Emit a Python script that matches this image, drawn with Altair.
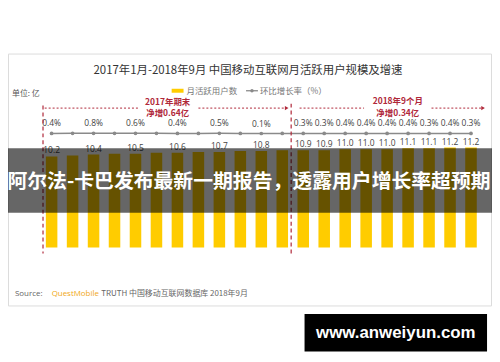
import altair as alt
import pandas as pd

# ---- data ----
months = ["2017-01", "2017-02", "2017-03", "2017-04", "2017-05", "2017-06", "2017-07",
          "2017-08", "2017-09", "2017-10", "2017-11", "2017-12", "2018-01", "2018-02",
          "2018-03", "2018-04", "2018-05", "2018-06", "2018-07", "2018-08", "2018-09"]
mau = [10.2, 10.3, 10.4, 10.5, 10.5, 10.6, 10.6, 10.7, 10.7, 10.8, 10.8, 10.9,
       10.9, 10.9, 11.0, 11.0, 11.0, 11.1, 11.1, 11.2, 11.2]
mau_labels = ["10.2", "", "10.4", "", "10.5", "", "10.6", "", "10.7", "", "10.8", "",
              "10.9", "10.9", "11.0", "11.0", "11.0", "11.1", "11.1", "11.2", "11.2"]
rate = [0.4, 0.6, 0.8, 0.7, 0.6, 0.5, 0.4, 0.4, 0.5, 0.3, 0.1, 0.2,
        0.3, 0.3, 0.4, 0.4, 0.4, 0.4, 0.3, 0.4, 0.3]
rate_labels = ["0.4%", "", "0.8%", "", "0.6%", "", "0.4%", "", "0.5%", "", "0.1%", "",
               "0.3%", "0.3%", "0.4%", "0.4%", "0.4%", "0.4%", "0.3%", "0.4%", "0.3%"]
y_ticks = [0, 4, 8, 12, 16]

title_text = "2017年1月-2018年9月 中国移动互联网月活跃用户规模及增速"
legend_bar = "月活跃用户数"
legend_line = "环比增长率（%）"
unit_text = "单位: 亿"
note1 = ["2017年期末", "净增0.64亿"]
note2 = ["2018年9个月", "净增0.34亿"]
source_parts = ["Source:", "QuestMobile", "TRUTH 中国移动互联网数据库 2018年9月"]
banner_text = "阿尔法-卡巴发布最新一期报告，透露用户增长率超预期"
watermark = "www.anweiyun.com"

df = pd.DataFrame({"month": months, "mau": mau, "mau_label": mau_labels,
                   "rate": rate, "rate_label": rate_labels})

# ---- layout (page pixels) ----
X0, Y0 = 41.4, 104.0          # plot-area origin on the page
W, H = 444, 144
PAD_L, PAD_T = X0 - 8, Y0 - 8
SVG_W, SVG_H = 488, 346


def px(x):
    return x - X0


def py(y):
    return y - Y0


CJK = "Noto Sans CJK SC"
NUM = "Open Sans"
RED = "#b0283a"
YELLOW = "#FFCC00"
GRAY_LINE = "#8a8a8a"

one = pd.DataFrame({"_": [0]})


def deco():
    return alt.Chart(one)


def text_at(t, x, y, size=9, color="#555", font=CJK, weight="normal", align="center"):
    return deco().mark_text(fontSize=size, color=color, font=font, fontWeight=weight,
                            align=align, baseline="middle").encode(
        x=alt.value(px(x)), y=alt.value(py(y)), text=alt.value(t))


def rect_at(x1, x2, y1, y2, **kw):
    return deco().mark_rect(**kw).encode(
        x=alt.value(px(x1)), x2=alt.value(px(x2)),
        y=alt.value(py(y1)), y2=alt.value(py(y2)))


def hrule(x1, x2, y, **kw):
    return deco().mark_rule(**kw).encode(
        x=alt.value(px(x1)), x2=alt.value(px(x2)), y=alt.value(py(y)))


def vrule(x, y1, y2, **kw):
    return deco().mark_rule(**kw).encode(
        x=alt.value(px(x)), y=alt.value(py(y1)), y2=alt.value(py(y2)))


def arrow(x, y):
    return deco().mark_point(shape="triangle-right", filled=True, size=18,
                             color=RED, opacity=1).encode(
        x=alt.value(px(x)), y=alt.value(py(y)))


base = alt.Chart(df)
xenc = alt.X("month:N", sort=None,
             scale=alt.Scale(paddingInner=0.45),
             axis=alt.Axis(title=None, labelAngle=-45, ticks=False, domain=False,
                           labelFontSize=7.5, labelColor="#555", labelFont=NUM,
                           labelPadding=2, labelAlign="right", labelBaseline="middle"))
ybar = alt.Y("mau:Q", scale=alt.Scale(domain=[0, 16]),
             axis=alt.Axis(values=y_ticks, title=None, grid=False, domain=False,
                           ticks=False, labelPadding=8, labelFontSize=8.5,
                           labelColor="#555", labelFont=NUM))
yrate = alt.Y("rate:Q", scale=alt.Scale(domain=[-398.9, 101.1]), axis=None)

border = rect_at(8.5, 495.5, 53, 307, fill="white", stroke="#dcdcdc", strokeWidth=1)

bars = base.mark_bar(color=YELLOW).encode(x=xenc, y=ybar)
bar_lbl = base.mark_text(dy=-6, fontSize=8.5, color="#444", font=NUM,
                         baseline="middle").encode(
    x=xenc, y=alt.Y("mau:Q", scale=alt.Scale(domain=[0, 16]), axis=None),
    text="mau_label:N")
line = base.mark_line(color=GRAY_LINE, strokeWidth=1.5).encode(x=xenc, y=yrate)
pts = base.mark_circle(color=GRAY_LINE, size=14, opacity=1).encode(x=xenc, y=yrate)
rate_lbl = base.mark_text(dy=-10, fontSize=8.5, color="#444", font=NUM,
                          baseline="middle").encode(x=xenc, y=yrate, text="rate_label:N")

decos = [
    text_at(title_text, 250, 70, size=11.5, color="#333"),
    rect_at(173, 185, 88, 92, fill=YELLOW),
    text_at(legend_bar, 188, 90, size=8.5, color="#777", align="left"),
    hrule(248, 260, 90, color=GRAY_LINE, strokeWidth=1.3),
    deco().mark_circle(color=GRAY_LINE, size=12, opacity=1).encode(
        x=alt.value(px(254)), y=alt.value(py(90))),
    text_at(legend_line, 262, 90, size=8.5, color="#777", align="left"),
    text_at(unit_text, 26, 93, size=8, color="#555"),
    vrule(43.3, 105, 254, color=RED, strokeDash=[4, 3], strokeWidth=1.2),
    vrule(293.5, 103, 254, color=RED, strokeDash=[4, 3], strokeWidth=1.2),
    hrule(45, 140, 107.5, color=RED, strokeDash=[2, 2], strokeWidth=1),
    hrule(200, 288, 107.5, color=RED, strokeDash=[2, 2], strokeWidth=1),
    arrow(289, 107.5),
    hrule(302, 367, 107.5, color=RED, strokeDash=[2, 2], strokeWidth=1),
    hrule(435, 486, 107.5, color=RED, strokeDash=[2, 2], strokeWidth=1),
    arrow(487, 107.5),
    text_at(note1[0], 169, 101.5, size=8.5, color=RED, weight="bold"),
    text_at(note1[1], 169, 112.5, size=8.5, color=RED, weight="bold"),
    text_at(note2[0], 401, 100.5, size=8.5, color=RED, weight="bold"),
    text_at(note2[1], 401, 112, size=8.5, color=RED, weight="bold"),
    text_at(source_parts[0], 15, 295, size=8, color="#666", font=NUM, align="left"),
    text_at(source_parts[1], 52, 295, size=8, color="#F0A818", font=NUM, align="left"),
    text_at(source_parts[2], 102, 295, size=8, color="#666", align="left"),
]

banner = [
    rect_at(8, 496, 148, 213, fill="black", opacity=0.6),
    text_at(banner_text, 251, 182, size=20, color="white", weight="bold"),
]
wm = [
    rect_at(307, 491, 315, 353, fill="black"),
    text_at(watermark, 399, 334, size=17, color="white", font="Liberation Sans",
            weight="bold"),
]

chart = alt.layer(
    border, bars, bar_lbl, line, pts, rate_lbl, *decos, *banner, *wm
).resolve_scale(y="independent").properties(
    width=W, height=H,
    autosize=alt.AutoSizeParams(type="none"),
    padding={"left": PAD_L, "top": PAD_T, "right": SVG_W - PAD_L - W,
             "bottom": SVG_H - PAD_T - H},
    background="white",
).configure_view(stroke=None)

chart.save("out.html", embed_options={"renderer": "svg", "actions": False})
